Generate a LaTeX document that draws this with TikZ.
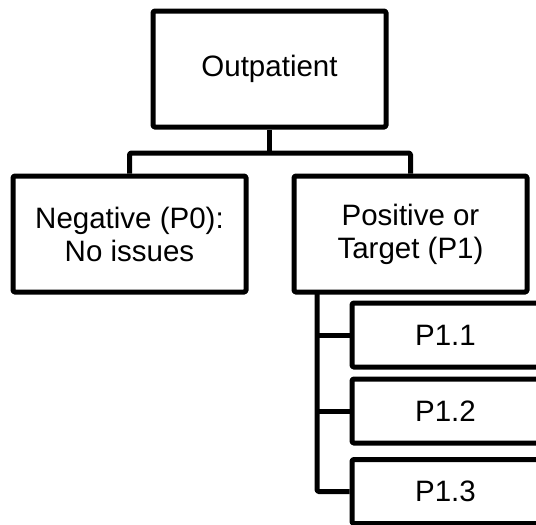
\documentclass[tikz,border=0pt]{standalone}
\usepackage{fontspec}
\setmainfont{Liberation Sans}
\begin{document}
\begin{tikzpicture}[x=1pt, y=-1pt,
  box/.style={draw=black, line width=5pt, line join=round, rounded corners=1.5pt,
    fill=white, align=center, inner sep=0pt,
    font=\fontsize{29.5}{33}\selectfont},
  bigbox/.style={box, minimum width=233pt, minimum height=116pt},
  subbox/.style={box, minimum width=187pt, minimum height=64pt},
  link/.style={draw=black, line width=5pt, line join=round, rounded corners=1.5pt}]
  \useasboundingbox (0,0) rectangle (536,525);
  \clip (0,0) rectangle (536,525);
  \fill[white] (0,0) rectangle (536,525);

  % tree of boxes
  \node[bigbox] (out) at (269.5,69) {Outpatient};
  \node[bigbox] (neg) at (129.5,234) {Negative (P0):\\No issues};
  \node[bigbox] (pos) at (410.5,234) {Positive or\\Target (P1)};
  \node[subbox] (p11) at (445.5,335) {P1.1};
  \node[subbox] (p12) at (445.5,411) {P1.2};
  \node[subbox] (p13) at (445.5,491.5) {P1.3};

  % top-level split
  \coordinate (bus) at (269.5,153);
  \draw[link] (out.south) -- (bus);
  \draw[link] (neg.north) |- (bus) -| (pos.north);

  % sub-categories hanging off one trunk
  \coordinate (trunk) at (317,292);
  \draw[link] (trunk) |- (p13.west);
  \draw[link] (trunk |- p11.west) -- (p11.west);
  \draw[link] (trunk |- p12.west) -- (p12.west);
\end{tikzpicture}
\end{document}
